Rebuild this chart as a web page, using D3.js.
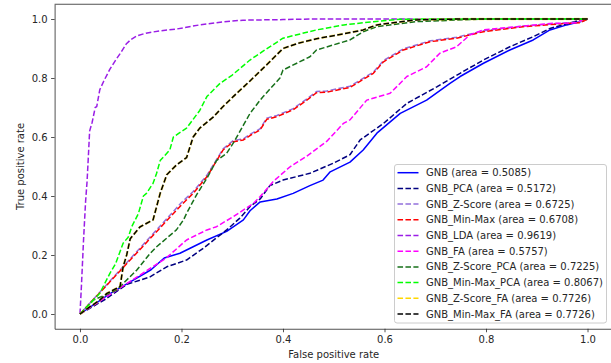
<!DOCTYPE html>
<html>
<head>
<meta charset="utf-8">
<script src="https://cdn.jsdelivr.net/npm/d3@7"></script>
<style>
  html, body { margin: 0; padding: 0; background: #fff; }
  svg { display: block; }
  text { font-family: "DejaVu Sans", sans-serif; }
</style>
</head>
<body>
<svg id="chart" width="611" height="363"></svg>
<script>
// ---------- data (FPR, TPR) ----------
const gnb = [[0,0],[0.06,0.07],[0.1,0.11],[0.14,0.15],[0.166,0.19],[0.197,0.206],[0.223,0.228],[0.25,0.251],[0.289,0.28],[0.322,0.319],[0.335,0.35],[0.355,0.38],[0.388,0.39],[0.42,0.409],[0.453,0.435],[0.479,0.454],[0.493,0.482],[0.532,0.515],[0.558,0.556],[0.585,0.613],[0.631,0.68],[0.683,0.725],[0.729,0.782],[0.749,0.805],[0.795,0.85],[0.847,0.895],[0.893,0.929],[0.926,0.963],[0.959,0.98],[0.992,0.994],[1,1]];
const gnbPca = [[0,0],[0.05,0.05],[0.092,0.1],[0.138,0.126],[0.171,0.16],[0.21,0.183],[0.243,0.223],[0.289,0.285],[0.315,0.325],[0.335,0.364],[0.355,0.39],[0.374,0.435],[0.4,0.454],[0.453,0.477],[0.499,0.511],[0.532,0.54],[0.552,0.59],[0.598,0.646],[0.644,0.714],[0.703,0.77],[0.749,0.816],[0.795,0.861],[0.847,0.906],[0.893,0.94],[0.926,0.968],[0.966,0.987],[0.992,0.999],[1,1]];
const gnbZScore = [[0,0],[0.2,0.378],[0.223,0.415],[0.25,0.47],[0.282,0.56],[0.302,0.588],[0.322,0.594],[0.335,0.609],[0.355,0.628],[0.368,0.664],[0.388,0.673],[0.42,0.696],[0.447,0.729],[0.466,0.754],[0.486,0.756],[0.532,0.772],[0.578,0.82],[0.598,0.859],[0.637,0.899],[0.69,0.926],[0.742,0.938],[0.795,0.96],[0.873,0.976],[0.959,0.987],[0.985,0.99],[1,1]];
const gnbMinMax = [[0,0],[0.2,0.37],[0.223,0.409],[0.25,0.465],[0.282,0.556],[0.302,0.584],[0.322,0.59],[0.335,0.605],[0.355,0.624],[0.368,0.66],[0.388,0.669],[0.42,0.692],[0.447,0.725],[0.466,0.75],[0.486,0.752],[0.532,0.768],[0.578,0.816],[0.598,0.855],[0.637,0.895],[0.69,0.923],[0.742,0.935],[0.795,0.957],[0.873,0.974],[0.959,0.985],[0.985,0.987],[1,1]];
const gnbLda = [[0,0],[0.003,0.1],[0.007,0.25],[0.011,0.38],[0.014,0.45],[0.017,0.55],[0.019,0.62],[0.024,0.65],[0.03,0.7],[0.033,0.703],[0.039,0.76],[0.047,0.79],[0.059,0.83],[0.07,0.86],[0.082,0.89],[0.091,0.915],[0.1,0.93],[0.112,0.943],[0.13,0.952],[0.158,0.96],[0.19,0.966],[0.236,0.98],[0.28,0.99],[0.321,0.996],[0.4,0.998],[0.453,1],[1,1]];
const gnbFa = [[0,0],[0.17,0.19],[0.21,0.251],[0.25,0.285],[0.269,0.296],[0.302,0.33],[0.342,0.375],[0.355,0.398],[0.381,0.45],[0.414,0.499],[0.447,0.535],[0.486,0.585],[0.519,0.646],[0.532,0.658],[0.565,0.725],[0.611,0.748],[0.644,0.805],[0.683,0.838],[0.709,0.884],[0.742,0.906],[0.768,0.946],[0.795,0.963],[0.86,0.974],[0.926,0.985],[0.979,0.987],[0.992,1],[1,1]];
const gnbZScorePca = [[0,0],[0.026,0.047],[0.072,0.081],[0.112,0.149],[0.138,0.205],[0.151,0.228],[0.19,0.285],[0.204,0.319],[0.21,0.341],[0.23,0.405],[0.25,0.46],[0.269,0.52],[0.289,0.545],[0.302,0.579],[0.322,0.64],[0.335,0.68],[0.355,0.725],[0.361,0.737],[0.394,0.8],[0.4,0.827],[0.453,0.872],[0.466,0.895],[0.532,0.929],[0.558,0.957],[0.585,0.974],[0.663,0.991],[0.794,1],[1,1]];
const gnbMinMaxPca = [[0,0],[0.02,0.035],[0.039,0.07],[0.059,0.138],[0.07,0.17],[0.085,0.24],[0.095,0.26],[0.102,0.296],[0.115,0.34],[0.125,0.4],[0.131,0.409],[0.144,0.443],[0.151,0.477],[0.158,0.52],[0.177,0.556],[0.184,0.6],[0.21,0.63],[0.236,0.69],[0.25,0.737],[0.276,0.782],[0.3,0.81],[0.335,0.861],[0.36,0.89],[0.4,0.935],[0.466,0.963],[0.52,0.98],[0.578,0.991],[0.631,0.999],[0.7,1],[1,1]];
const gnbMinMaxFa = [[0,0],[0.02,0.025],[0.039,0.047],[0.053,0.07],[0.079,0.093],[0.085,0.16],[0.092,0.2],[0.099,0.255],[0.118,0.295],[0.144,0.319],[0.151,0.364],[0.158,0.409],[0.171,0.472],[0.19,0.505],[0.21,0.53],[0.223,0.6],[0.236,0.63],[0.263,0.668],[0.28,0.7],[0.302,0.737],[0.335,0.79],[0.368,0.845],[0.4,0.9],[0.43,0.918],[0.466,0.933],[0.52,0.95],[0.558,0.963],[0.585,0.98],[0.663,0.997],[0.75,1],[1,1]];
const gnbZScoreFa = gnbMinMaxFa; // identical curve (area = 0.7726)

const seriesNames = ["GNB","GNB_PCA","GNB_Z-Score","GNB_Min-Max","GNB_LDA","GNB_FA","GNB_Z-Score_PCA","GNB_Min-Max_PCA","GNB_Z-Score_FA","GNB_Min-Max_FA"];
const seriesAreas = ["0.5085","0.5172","0.6725","0.6708","0.9619","0.5757","0.7225","0.8067","0.7726","0.7726"];
const seriesData = [gnb, gnbPca, gnbZScore, gnbMinMax, gnbLda, gnbFa, gnbZScorePca, gnbMinMaxPca, gnbZScoreFa, gnbMinMaxFa];
const seriesColors = ["#0000ff","#000080","#9370db","#ff0000","#9a1ee6","#ff00ff","#17701a","#00ff00","#ffd700","#000000"];
const seriesDashed = [false,true,true,true,true,true,true,true,true,true];
const tickValues = [0,0.2,0.4,0.6,0.8,1.0];

// ---------- layout ----------
const svg = d3.select("#chart");
const x = d3.scaleLinear().domain([-0.05, 1.05]).range([54.6, 612.9]);
const y = d3.scaleLinear().domain([-0.05, 1.05]).range([328.75, 4.25]);
const textColor = "#262626";

const line = d3.line().x(d => x(d[0])).y(d => y(d[1]));

const dash = "5.55,2.4";
const linesG = svg.append("g");
seriesData.forEach((data, i) => {
  const p = linesG.append("path")
    .attr("d", line(data))
    .attr("fill", "none")
    .attr("stroke", seriesColors[i])
    .attr("stroke-width", i === 8 ? 2.4 : 1.5)
    .attr("stroke-linejoin", "round");
  if (seriesDashed[i]) p.attr("stroke-dasharray", dash);
  if (i === 8) p.attr("stroke-opacity", 0.55);
  if (i === 2) p.attr("stroke-dashoffset", 4);
});

// ---------- axes ----------
const fmt = d3.format(".1f");
const xAxis = svg.append("g").attr("transform", `translate(0,${328.75})`)
  .call(d3.axisBottom(x).tickValues(tickValues).tickFormat(fmt).tickSizeInner(3.5).tickSizeOuter(0).tickPadding(3.5));
const yAxis = svg.append("g").attr("transform", `translate(${54.6},0)`)
  .call(d3.axisLeft(y).tickValues(tickValues).tickFormat(fmt).tickSizeInner(3.5).tickSizeOuter(0).tickPadding(3.5));
[xAxis, yAxis].forEach(a => {
  a.selectAll("text").attr("font-size", 10).attr("fill", textColor).attr("font-family", "DejaVu Sans, sans-serif");
  a.selectAll("line").attr("stroke", textColor).attr("stroke-width", 0.8);
  a.select(".domain").attr("stroke", textColor).attr("stroke-width", 0.8);
});
// top and right spines
svg.append("line").attr("x1", 54.6).attr("x2", 612.9).attr("y1", 4.25).attr("y2", 4.25).attr("stroke", textColor).attr("stroke-width", 0.8);
svg.append("line").attr("x1", 612.9).attr("x2", 612.9).attr("y1", 4.25).attr("y2", 328.75).attr("stroke", textColor).attr("stroke-width", 0.8);

// axis labels
svg.append("text").attr("x", (54.6 + 612.9) / 2).attr("y", 358)
  .attr("text-anchor", "middle").attr("font-size", 10).attr("fill", textColor)
  .text("False positive rate");
svg.append("text").attr("transform", `translate(${24},${(4.25 + 328.75) / 2}) rotate(-90)`)
  .attr("text-anchor", "middle").attr("font-size", 10).attr("fill", textColor)
  .text("True positive rate");

// ---------- legend ----------
const lg = svg.append("g");
lg.append("rect").attr("x", 394.5).attr("y", 164.5).attr("width", 212).attr("height", 158.5)
  .attr("rx", 2.5).attr("fill", "#fff").attr("fill-opacity", 0.8)
  .attr("stroke", "#cccccc").attr("stroke-width", 1);
seriesNames.forEach((name, i) => {
  const cy = 172.7 + i * 15.7;
  const l = lg.append("line").attr("x1", 397.5).attr("x2", 418.5).attr("y1", cy).attr("y2", cy)
    .attr("stroke", seriesColors[i]).attr("stroke-width", 1.5);
  if (seriesDashed[i]) l.attr("stroke-dasharray", dash);
  lg.append("text").attr("x", 426).attr("y", cy).attr("dy", "0.35em")
    .attr("font-size", 10).attr("fill", textColor)
    .text(`${name} (area = ${seriesAreas[i]})`);
});
</script>
</body>
</html>
